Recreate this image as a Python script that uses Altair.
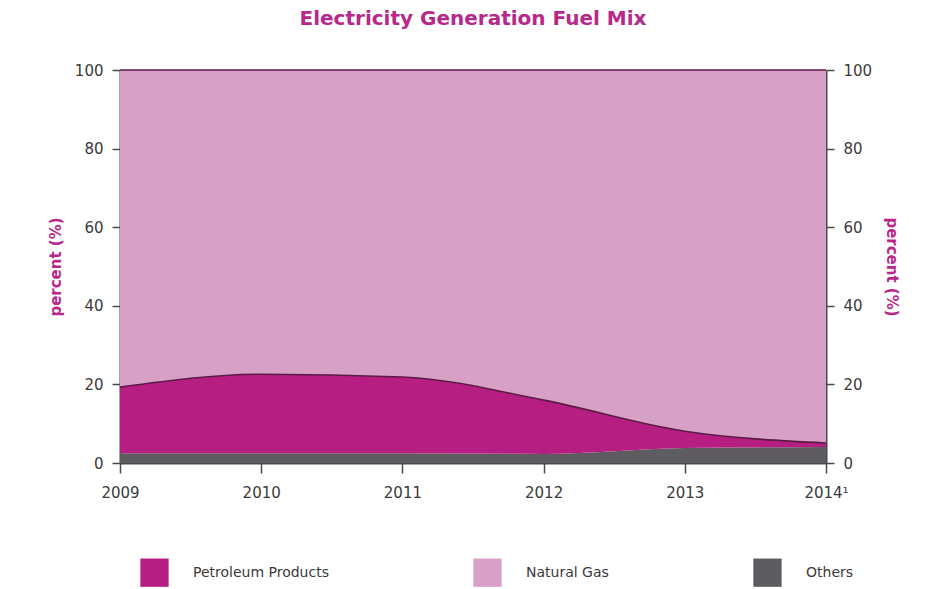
import altair as alt
import pandas as pd

years = [2009, 2010, 2011, 2012, 2013, 2014]
others = [2.5, 2.5, 2.5, 2.3, 3.8, 4.1]
petroleum = [16.8, 20.1, 19.4, 13.7, 4.3, 1.0]
natural_gas = [80.7, 77.4, 78.1, 84.0, 91.9, 94.9]

series_names = ["Petroleum Products", "Natural Gas", "Others"]
series_colors = ["#b71e82", "#d7a1c5", "#5e5c61"]
stack_order = {"Others": 0, "Petroleum Products": 1, "Natural Gas": 2}

rows = []
for name, vals in [("Others", others), ("Petroleum Products", petroleum), ("Natural Gas", natural_gas)]:
    for yr, v in zip(years, vals):
        rows.append({"year": yr, "series": name, "value": v, "ord": stack_order[name]})
df = pd.DataFrame(rows)

FONT = "DejaVu Sans"
MAG = "#b8288a"
AXC = "#4a4a4a"
LBL = "#3a3a3a"

x_enc = alt.X(
    "year:Q",
    scale=alt.Scale(domain=[2009, 2014], nice=False, zero=False),
    axis=alt.Axis(
        values=years, format="d", title=None, grid=False,
        labelExpr="datum.value == 2014 ? '2014¹' : datum.label",
        tickSize=10, labelPadding=12, labelFontSize=15, labelColor=LBL,
        labelFont=FONT, domainColor=AXC, domainWidth=2, tickColor=AXC, tickWidth=1.5,
        labelFlush=False,
    ),
)

color_scale = alt.Scale(domain=series_names, range=series_colors)

color_enc = alt.Color(
    "series:N",
    scale=color_scale,
    legend=alt.Legend(
        title=None, orient="none", legendX=20, legendY=488, direction="horizontal",
        columns=3, columnPadding=144, symbolType="square", symbolSize=800,
        symbolStrokeWidth=0, labelFontSize=14, labelFont=FONT, labelColor=LBL,
        labelOffset=24, symbolOpacity=1,
    ),
)

def y_axis(orient, title_angle, pad):
    return alt.Axis(
        orient=orient, values=[0, 20, 40, 60, 80, 100], title="percent (%)",
        titleAngle=title_angle, titleColor=MAG, titleFontSize=15, titleFont=FONT,
        titleFontWeight="bold", titlePadding=pad, grid=False, tickSize=8,
        labelPadding=9, labelFontSize=15, labelColor=LBL, labelFont=FONT,
        domainColor=AXC, domainWidth=2, tickColor=AXC, tickWidth=1.5,
    )

y_scale = alt.Scale(domain=[0, 100], nice=False)
base = alt.Chart(df)

areas = base.mark_area(interpolate="monotone", opacity=1).encode(
    x=x_enc,
    y=alt.Y("value:Q", stack="zero", scale=y_scale, axis=y_axis("left", -90, 11)),
    color=color_enc,
    order=alt.Order("ord:Q"),
)

edges = base.transform_stack(
    stack="value", groupby=["year"], as_=["y0", "y1"], sort=[alt.SortField("ord", order="ascending")]
).transform_filter("datum.ord >= 1").mark_line(
    interpolate="monotone", color="#5c1a48", strokeWidth=1.6
).encode(
    x=x_enc,
    y=alt.Y("y1:Q", scale=y_scale, axis=y_axis("right", 90, 12)),
    detail="series:N",
)

chart = alt.layer(areas, edges).resolve_axis(y="independent").properties(
    width=706, height=393,
    padding={"left": 120, "top": 70, "right": 103, "bottom": 126},
    autosize=alt.AutoSizeParams(type="none"),
    title=alt.Title(
        "Electricity Generation Fuel Mix", fontSize=20, font=FONT, fontWeight="bold",
        color=MAG, anchor="middle", offset=34,
    ),
).configure_view(stroke=None).configure(background="white")

chart.save("out.html", embed_options={"renderer": "svg", "actions": False})
